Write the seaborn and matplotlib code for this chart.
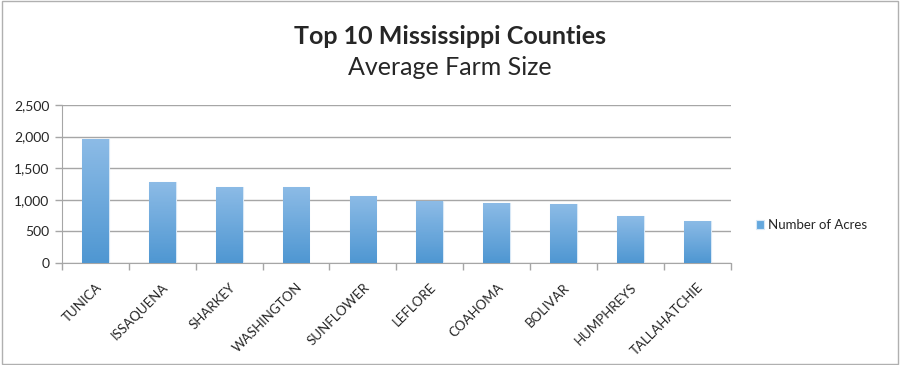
import numpy as np
import pandas as pd
import matplotlib.pyplot as plt
import seaborn as sns
from matplotlib.patches import Rectangle

counties = ["TUNICA", "ISSAQUENA", "SHARKEY", "WASHINGTON", "SUNFLOWER",
            "LEFLORE", "COAHOMA", "BOLIVAR", "HUMPHREYS", "TALLAHATCHIE"]
acres = [1955, 1277, 1207, 1198, 1065, 975, 954, 927, 737, 669]
series_name = "Number of Acres"

df = pd.DataFrame({"county": counties, "acres": acres})

sns.set_style("white")
plt.rcParams["font.family"] = ["Lato", "DejaVu Sans"]

fig = plt.figure(figsize=(9, 3.65), dpi=100)
ax = fig.add_axes([0.0689, 0.2795, 0.743, 0.433])

sns.barplot(data=df, x="county", y="acres", color="#64a8de", width=0.4,
            ax=ax, saturation=1, label=series_name)

# vertical gradient inside each bar
grad = np.linspace(0, 1, 64).reshape(-1, 1)
cmap = plt.matplotlib.colors.LinearSegmentedColormap.from_list(
    "bar", ["#4f97d2", "#8cbbe6"])
for p in ax.patches:
    x0, w, h = p.get_x(), p.get_width(), p.get_height()
    im = ax.imshow(grad, extent=(x0, x0 + w, 0, h), origin="lower",
                   cmap=cmap, aspect="auto", zorder=3)
    im.set_clip_path(p)
    p.set_edgecolor("#d8e8f6")
    p.set_linewidth(0.8)
    p.set_zorder(2)

ax.set_xlim(-0.5, len(counties) - 0.5)
ax.set_ylim(0, 2500)
ax.set_yticks(range(0, 2501, 500))
ax.yaxis.set_major_formatter(plt.FuncFormatter(lambda v, _: f"{int(v):,}"))
ax.grid(axis="y", color="#a6a6a6", linewidth=1)
ax.set_axisbelow(True)

for s in ["top", "right"]:
    ax.spines[s].set_visible(False)
ax.spines["left"].set_color("#a6a6a6")
ax.spines["bottom"].set_color("#a6a6a6")

ax.set_xticks(np.arange(len(counties)))
ax.set_xticklabels(counties, rotation=45, ha="right", rotation_mode="anchor",
                   fontsize=9.5)
ax.tick_params(axis="x", which="major", length=0, pad=13)
ax.set_xticks(np.arange(len(counties) + 1) - 0.5, minor=True)
ax.tick_params(axis="x", which="minor", bottom=True, length=5,
               color="#a6a6a6", width=1, direction="out")
ax.tick_params(axis="y", left=True, length=5, color="#a6a6a6", width=1,
               labelsize=10, direction="out", pad=4)
ax.set_xlabel("")
ax.set_ylabel("")

leg = ax.legend(loc="center left", bbox_to_anchor=(1.02, 0.24), frameon=False,
                fontsize=9.5, handlelength=0.6, handleheight=0.6,
                handletextpad=0.3)

fig.text(0.5, 0.901, "Top 10 Mississippi Counties", ha="center", va="center",
         fontsize=18, fontweight="bold")
fig.text(0.5, 0.814, "Average Farm Size", ha="center", va="center",
         fontsize=18)

fig.patches.append(Rectangle((0.002, 0.003), 0.996, 0.994,
                             transform=fig.transFigure, fill=False,
                             edgecolor="#b0b0b0", linewidth=1))

fig.savefig("out.png", dpi=100)
